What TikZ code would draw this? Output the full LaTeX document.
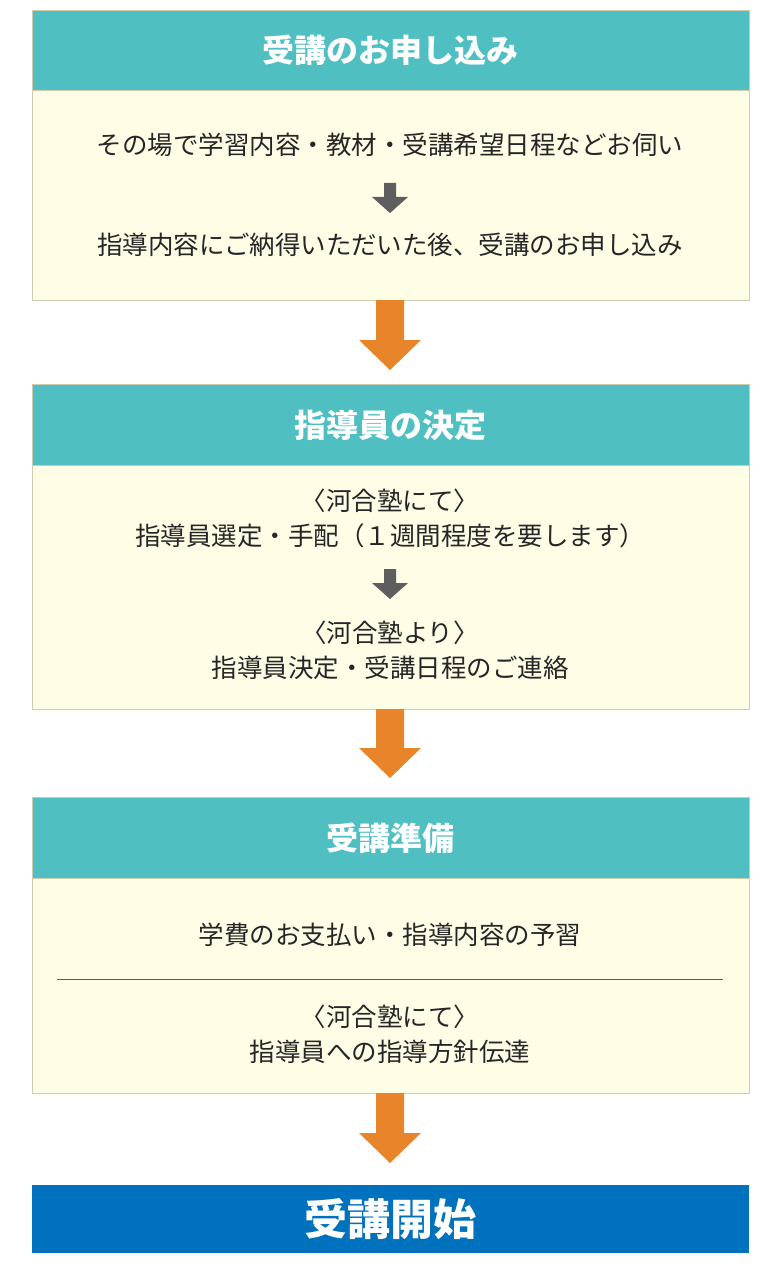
\documentclass[tikz,border=0pt]{standalone}
\usepackage{fontspec}
\setmainfont{Noto Sans CJK JP}
\definecolor{teal}{HTML}{4FBFC2}
\definecolor{cream}{HTML}{FEFDE6}
\definecolor{edge}{HTML}{CFCBB0}
\definecolor{orng}{HTML}{E8842A}
\definecolor{gry}{HTML}{5E5E5E}
\definecolor{blu}{HTML}{0071BC}
\definecolor{txt}{HTML}{262626}
\begin{document}
\begin{tikzpicture}[x=1pt,y=-1pt,
 head/.style={fill=teal,draw=edge,line width=0.8pt,minimum width=717pt,inner sep=0pt,text=white,font=\fontsize{32}{36}\selectfont\bfseries},
 body/.style={fill=cream,draw=edge,line width=0.8pt,minimum width=717pt,inner sep=0pt},
 txt/.style={text=txt,font=\fontsize{25.5}{35}\selectfont,align=center},
 big/.style={fill=orng},
 small/.style={fill=gry}]
\useasboundingbox (0,0) rectangle (780,1265);
\fill[white] (0,0) rectangle (780,1265);
% box 1
\node[body,minimum height=210pt] (b1) at (390.5,195) {};
\node[head,minimum height=80pt] (h1) at (390.5,50) {受講のお申し込み};
\node[txt] (t1a) at (390,145) {その場で学習内容・教材・受講希望日程などお伺い};
\node[txt] (t1b) at (390,245) {指導内容にご納得いただいた後、受講のお申し込み};
\fill[small] (384,183)--(396,183)--(396,197)--(408,197)--(390,213)--(372,197)--(384,197)--cycle;
\fill[big] (376,300)--(404,300)--(404,340)--(421,340)--(390,370)--(359,340)--(376,340)--cycle;
% box 2
\node[body,minimum height=244pt] (b2) at (390.5,587) {};
\node[head,minimum height=81pt] (h2) at (390.5,425) {指導員の決定};
\node[txt] (t2a) at (390,518) {〈河合塾にて〉\\指導員選定・手配（１週間程度を要します）};
\node[txt] (t2b) at (390,650) {〈河合塾より〉\\指導員決定・受講日程のご連絡};
\fill[small] (384,569)--(396,569)--(396,583)--(408,583)--(390,599)--(372,583)--(384,583)--cycle;
\fill[big] (376,709)--(404,709)--(404,748)--(421,748)--(390,778)--(359,748)--(376,748)--cycle;
% box 3
\node[body,minimum height=215pt] (b3) at (390.5,985.5) {};
\node[head,minimum height=81pt] (h3) at (390.5,838) {受講準備};
\node[txt] (t3a) at (390,935) {学費のお支払い・指導内容の予習};
\draw[gry,line width=0.8pt] (57,979)--(723,979);
\node[txt] (t3b) at (390,1034) {〈河合塾にて〉\\指導員への指導方針伝達};
\fill[big] (376,1093)--(404,1093)--(404,1133)--(421,1133)--(390,1163)--(359,1133)--(376,1133)--cycle;
% final
\node[fill=blu,minimum width=717pt,minimum height=68pt,inner sep=0pt,text=white,font=\fontsize{43}{48}\selectfont\bfseries] (f) at (390.5,1219) {受講開始};
\end{tikzpicture}
\end{document}
